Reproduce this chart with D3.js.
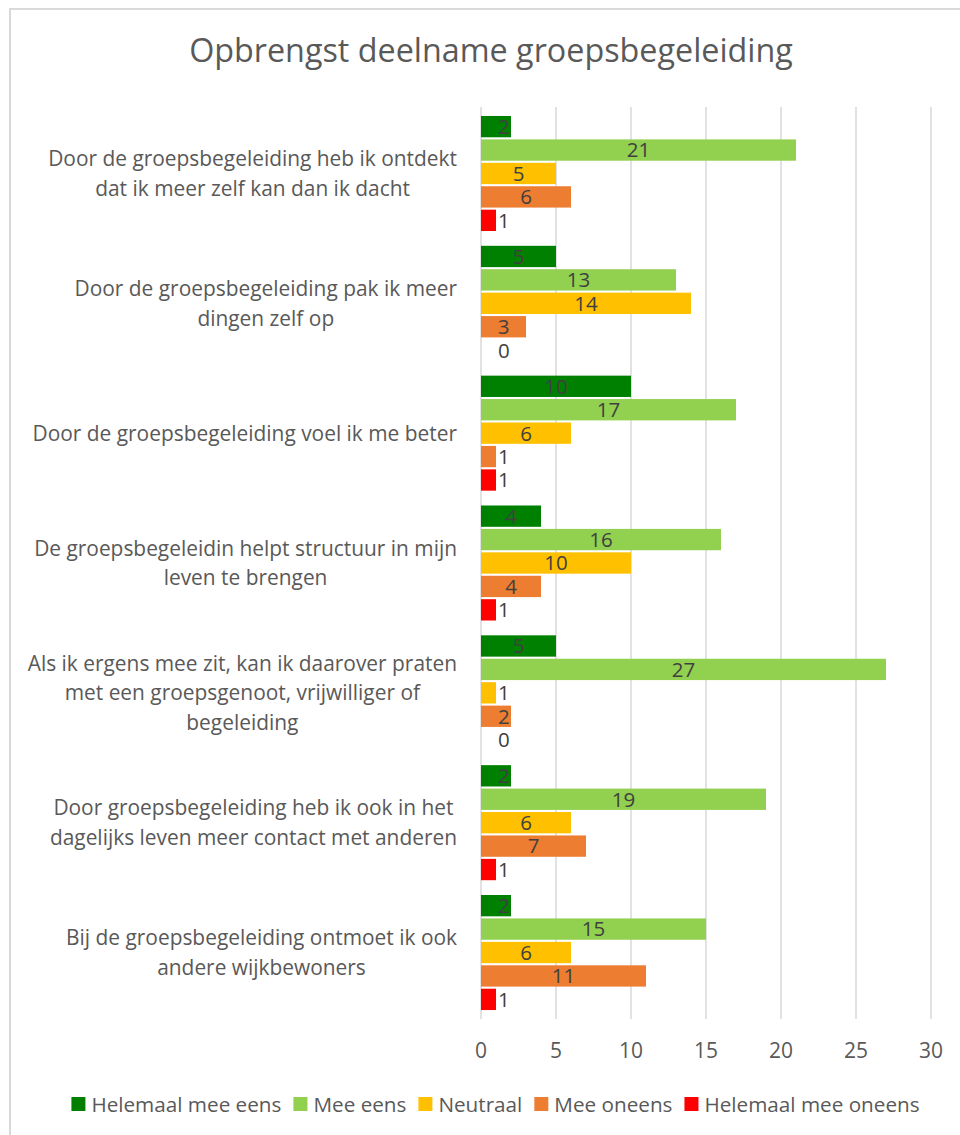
<!DOCTYPE html>
<html>
<head>
<meta charset="utf-8">
<script src="https://cdn.jsdelivr.net/npm/d3@7"></script>
<style>
  body { margin: 0; background: #fff; }
  svg { display: block; font-family: "Open Sans", sans-serif; }
</style>
</head>
<body>
<svg width="960" height="1135"></svg>
<script>
// categories (line breaks as in the original chart)
const categories = [
  'Door de groepsbegeleiding heb ik ontdekt\ndat ik meer zelf kan dan ik dacht',
  'Door de groepsbegeleiding pak ik meer\ndingen zelf op',
  'Door de groepsbegeleiding voel ik me beter',
  'De groepsbegeleidin helpt structuur in mijn\nleven te brengen',
  'Als ik ergens mee zit, kan ik daarover praten\nmet een groepsgenoot, vrijwilliger of\nbegeleiding',
  'Door groepsbegeleiding heb ik ook in het\ndagelijks leven meer contact met anderen',
  'Bij de groepsbegeleiding ontmoet ik ook\nandere wijkbewoners'
];

const seriesNames = ['Helemaal mee eens', 'Mee eens', 'Neutraal', 'Mee oneens', 'Helemaal mee oneens'];
const seriesColors = ['#008000', '#92d050', '#ffc000', '#ed7d31', '#ff0000'];

// values per series, one per category
const helemaalEens = [2, 5, 10, 4, 5, 2, 2];
const meeEens = [21, 13, 17, 16, 27, 19, 15];
const neutraal = [5, 14, 6, 10, 1, 6, 6];
const meeOneens = [6, 3, 1, 4, 2, 7, 11];
const helemaalOneens = [1, 0, 1, 1, 0, 1, 1];

const xTicks = [0, 5, 10, 15, 20, 25, 30];

const seriesValues = [helemaalEens, meeEens, neutraal, meeOneens, helemaalOneens];

const svg = d3.select('svg');

// chart frame
svg.append('rect')
  .attr('x', 10).attr('y', 9)
  .attr('width', 980).attr('height', 1160)
  .attr('fill', 'none')
  .attr('stroke', '#d9d9d9')
  .attr('stroke-width', 2);

// title
svg.append('text')
  .attr('x', 491)
  .attr('y', 62)
  .attr('text-anchor', 'middle')
  .attr('font-size', 32.3)
  .attr('fill', '#595959')
  .text('Opbrengst deelname groepsbegeleiding');

const x = d3.scaleLinear().domain([0, 30]).range([481, 931]);

const y = d3.scaleBand()
  .domain(d3.range(categories.length))
  .range([107, 1019])
  .paddingInner(0.114)
  .paddingOuter(0.069);

const ySub = d3.scaleBand()
  .domain(d3.range(seriesNames.length))
  .range([0, y.bandwidth()])
  .paddingInner(0.09);

// gridlines
svg.append('g')
  .selectAll('line')
  .data(xTicks)
  .join('line')
  .attr('x1', d => x(d)).attr('x2', d => x(d))
  .attr('y1', 107).attr('y2', 1019)
  .attr('stroke', '#d9d9d9')
  .attr('stroke-width', 1.5);

// tick labels
svg.append('g')
  .selectAll('text')
  .data(xTicks)
  .join('text')
  .attr('x', d => x(d))
  .attr('y', 1058)
  .attr('text-anchor', 'middle')
  .attr('font-size', 21)
  .attr('fill', '#595959')
  .text(d => d);

// bars
const groups = svg.append('g')
  .selectAll('g')
  .data(categories)
  .join('g')
  .attr('transform', (d, i) => `translate(0,${y(i)})`);

groups.each(function(cat, ci) {
  let g = d3.select(this);
  let rows = seriesValues.map((vals, si) => ({ si: si, v: vals[ci] }));

  g.selectAll('rect')
    .data(rows)
    .join('rect')
    .attr('x', x(0))
    .attr('y', d => ySub(d.si))
    .attr('width', d => x(d.v) - x(0))
    .attr('height', ySub.bandwidth())
    .attr('fill', d => seriesColors[d.si]);

  // small bars get the label just to the right
  g.selectAll('text')
    .data(rows)
    .join('text')
    .attr('x', d => d.v <= 2 ? x(1) + 2 : (x(0) + x(d.v)) / 2)
    .attr('y', d => ySub(d.si) + ySub.bandwidth() / 2)
    .attr('dy', '0.36em')
    .attr('text-anchor', d => d.v <= 2 ? 'start' : 'middle')
    .attr('font-size', 20.5)
    .attr('fill', '#404040')
    .text(d => d.v);
});

// category labels, lines centred in a block right-aligned at the axis
const lineHeight = 29.5;
categories.forEach((cat, ci) => {
  let lines = cat.split('\n');
  let t = svg.append('text')
    .attr('font-size', 20.9)
    .attr('fill', '#595959')
    .attr('text-anchor', 'middle');
  let cy = y(ci) + y.bandwidth() / 2;
  let top = cy - (lines.length - 1) / 2 * lineHeight + 7.5;
  let spans = lines.map((line, li) => t.append('tspan').attr('y', top + li * lineHeight).text(line));
  let maxW = d3.max(spans, s => s.node().getComputedTextLength());
  spans.forEach(s => s.attr('x', 457 - maxW / 2));
});

// legend
const legend = svg.append('g');
let items = seriesNames.map((name, i) => {
  let item = legend.append('g');
  item.append('rect')
    .attr('width', 14).attr('height', 14)
    .attr('y', 1097)
    .attr('fill', seriesColors[i]);
  let label = item.append('text')
    .attr('x', 20)
    .attr('y', 1111.5)
    .attr('font-size', 20.7)
    .attr('fill', '#595959')
    .text(name);
  return { item: item, w: 20 + label.node().getComputedTextLength() };
});
let total = d3.sum(items, d => d.w) + 12 * (items.length - 1);
let pos = 495.5 - total / 2;
items.forEach(d => {
  d.item.attr('transform', `translate(${pos},0)`);
  pos += d.w + 12;
});
</script>
</body>
</html>
